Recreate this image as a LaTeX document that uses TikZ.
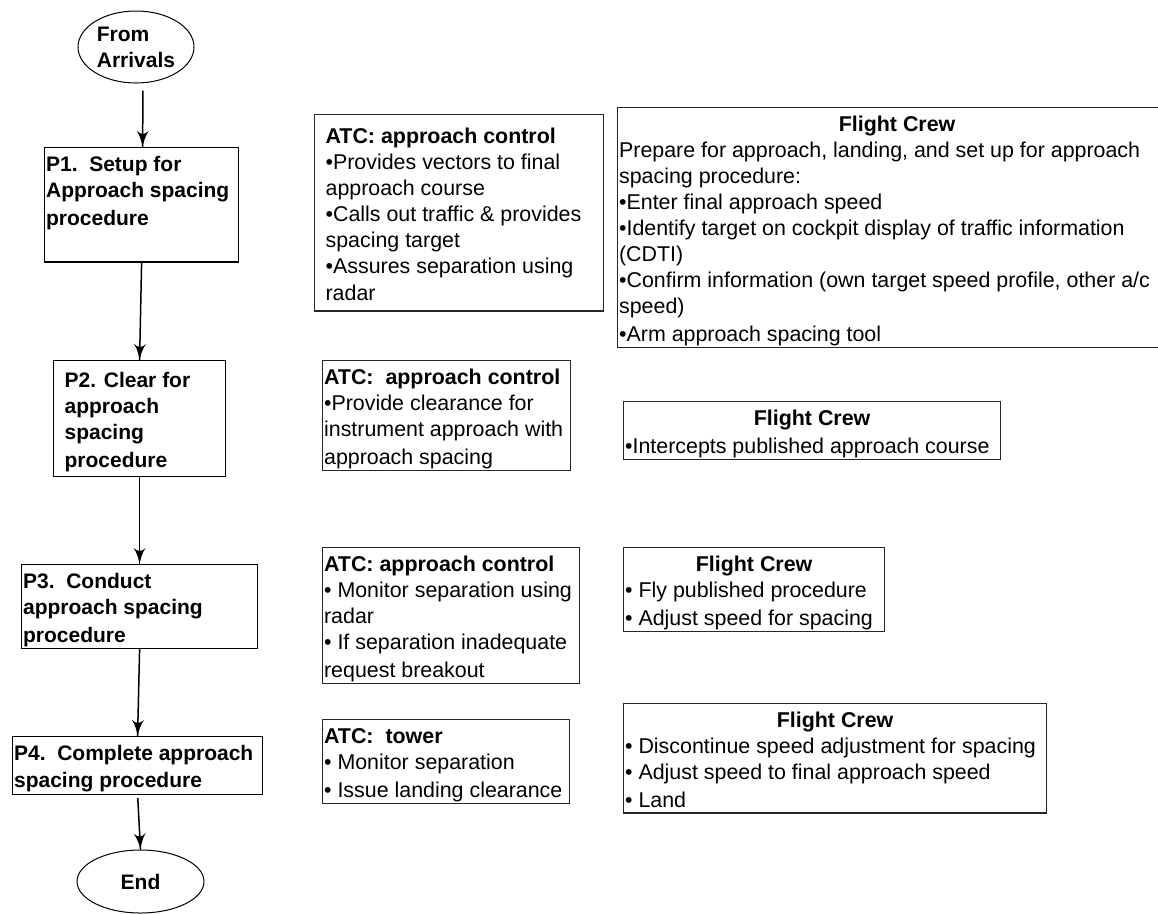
\documentclass[tikz,border=0pt]{standalone}
\usepackage{fontspec}
\setmainfont{Liberation Sans}
\usetikzlibrary{arrows}
\usetikzlibrary{decorations.markings}
\usetikzlibrary{shapes.geometric}
\newcommand{\lnstrut}{\rule[-4pt]{0pt}{26pt}}
\newcommand{\ctr}[1]{\makebox[\hsize]{\textbf{#1}}}
\tikzset{arr/.style = {line width=1.5pt,
                       decoration={markings,
                                   mark=at position 1 with {\arrow[scale=2.2]{latex'}}},
                       postaction={decorate}}}
\tikzset{proc/.style = {draw, line width=1.2pt, anchor=north west, align=flush left,
                        inner xsep=1.5pt, inner ysep=2pt, font=\bfseries,
                        execute at begin node=\lnstrut, execute at end node=\lnstrut}}
\tikzset{role/.style = {draw=black!85, line width=1.2pt, anchor=north west, align=flush left,
                        inner xsep=1.5pt, inner ysep=2pt, font=\fontsize{21.4}{26}\selectfont,
                        execute at begin node=\lnstrut, execute at end node=\lnstrut}}
\tikzset{term/.style = {draw, ellipse, line width=1pt, inner sep=0, align=left, font=\bfseries}}

\begin{document}
\fontsize{21}{26}\selectfont
\begin{tikzpicture}[x=1pt, y=-1pt]
      \useasboundingbox (0, 0) rectangle (1158, 914);

      % process column
      \node [term, minimum width=116, minimum height=72] (start) at (136, 47) {From\\Arrivals};
      \node [proc, text width=191] (p1) at (44, 147) {P1.\ \ Setup for\\Approach spacing\\procedure\rule[-35pt]{0pt}{0pt}};
      \node [proc, text width=150, inner xsep=11pt, inner ysep=5pt] (p2) at (53, 360) {P2. Clear for\\approach\\spacing\\procedure};
      \node [proc, text width=233] (p3) at (21, 564) {P3.\ \ Conduct\\approach spacing\\procedure};
      \node [proc, text width=247] (p4) at (12, 736) {P4.\ \ Complete approach\\spacing procedure};
      \node [term, minimum width=127, minimum height=63, align=center] (stop) at (140.5, 881.5) {End};

      \draw [arr, shorten <=7pt] ([xshift=7pt]start.south) -- ([xshift=1pt]p1.north);
      \draw [arr] (p1.south) -- (p2.north);
      \draw [arr] (p2.south) -- (p3.north);
      \draw [arr] (p3.south) -- (p4.north);
      \draw [arr, shorten <=3pt] (p4.south) -- (stop.north);

      % ATC
      \node [role, text width=267, inner xsep=11pt, inner ysep=6.5pt] (atc1) at (314, 114) {\textbf{ATC: approach control}\\•Provides vectors to final\\approach course\\•Calls out traffic \& provides\\spacing target\\•Assures separation using\\radar};
      \node [role, text width=245] (atc2) at (322, 360) {\textbf{ATC:\ \ approach control}\\•Provide clearance for\\instrument approach with\\approach spacing};
      \node [role, text width=254] (atc3) at (322, 547) {\textbf{ATC: approach control}\\• Monitor separation using\\radar\\• If separation inadequate\\request breakout};
      \node [role, text width=244] (atc4) at (322, 719) {\textbf{ATC:\ \ tower}\\• Monitor separation\\• Issue landing clearance};

      % flight crew
      \node [role, text width=556] (crew1) at (617, 107) {\ctr{Flight Crew}\\Prepare for approach, landing, and set up for approach\\spacing procedure:\\•Enter final approach speed\\•Identify target on cockpit display of traffic information\\(CDTI)\\•Confirm information (own target speed profile, other a/c\\speed)\\•Arm approach spacing tool};
      \node [role, text width=374] (crew2) at (623, 401) {\ctr{Flight Crew}\\•Intercepts published approach course};
      \node [role, text width=258] (crew3) at (623, 547) {\ctr{Flight Crew}\\• Fly published procedure\\• Adjust speed for spacing};
      \node [role, text width=420] (crew4) at (623, 703) {\ctr{Flight Crew}\\• Discontinue speed adjustment for spacing\\• Adjust speed to final approach speed\\• Land};
    \end{tikzpicture}
\end{document}
